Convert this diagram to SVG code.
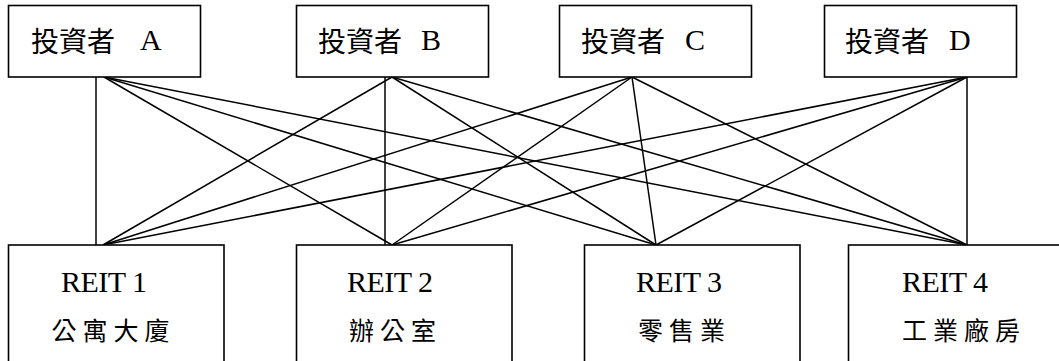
<svg xmlns="http://www.w3.org/2000/svg" width="1059" height="361" viewBox="0 0 1059 361">
<style>
.box{fill:#fff;stroke:#000;stroke-width:1.6}
.ln{stroke:#000;stroke-width:1.5;fill:none}
.cjk{font-family:"Noto Sans CJK TC","Noto Sans CJK SC",sans-serif;fill:#000}
.lat{font-family:"Liberation Serif",serif;fill:#000}
.t{font-size:28px}
.tl{font-size:30px}
.b{font-size:25px;letter-spacing:6px}
.r{font-size:30px;letter-spacing:-0.5px}
</style>
<rect width="1059" height="361" fill="#fff"/>
<g id="connectors">
<line class="ln" x1="96" y1="77" x2="96" y2="245"/>
<line class="ln" x1="104" y1="77" x2="392" y2="245"/>
<line class="ln" x1="104" y1="77" x2="656" y2="245"/>
<line class="ln" x1="104" y1="77" x2="967" y2="245"/>
<line class="ln" x1="392" y1="77" x2="103" y2="245"/>
<line class="ln" x1="385" y1="77" x2="385" y2="245"/>
<line class="ln" x1="392" y1="77" x2="656" y2="245"/>
<line class="ln" x1="392" y1="77" x2="967" y2="245"/>
<line class="ln" x1="632" y1="77" x2="103" y2="245"/>
<line class="ln" x1="632" y1="77" x2="392" y2="245"/>
<line class="ln" x1="632" y1="77" x2="656" y2="245"/>
<line class="ln" x1="632" y1="77" x2="967" y2="245"/>
<line class="ln" x1="967" y1="77" x2="103" y2="245"/>
<line class="ln" x1="967" y1="77" x2="392" y2="245"/>
<line class="ln" x1="967" y1="77" x2="656" y2="245"/>
<line class="ln" x1="967" y1="77" x2="967" y2="245"/>
</g>
<g id="investorA">
<rect class="box" x="8.5" y="5.5" width="192" height="71.5"/>
<text class="cjk t" x="31" y="52">投資者</text>
<text class="lat tl" x="140" y="50">A</text>
</g>
<g id="investorB">
<rect class="box" x="296.5" y="5.5" width="192" height="71.5"/>
<text class="cjk t" x="318" y="52">投資者</text>
<text class="lat tl" x="421" y="50">B</text>
</g>
<g id="investorC">
<rect class="box" x="559.5" y="5.5" width="192" height="71.5"/>
<text class="cjk t" x="581" y="52">投資者</text>
<text class="lat tl" x="685" y="50">C</text>
</g>
<g id="investorD">
<rect class="box" x="824.5" y="5.5" width="192" height="71.5"/>
<text class="cjk t" x="845" y="52">投資者</text>
<text class="lat tl" x="949" y="50">D</text>
</g>
<g id="reit1">
<rect class="box" x="8.5" y="245" width="215.5" height="130"/>
<text class="lat r" x="61" y="292">REIT 1</text>
<text class="cjk b" x="51.5" y="340">公寓大廈</text>
</g>
<g id="reit2">
<rect class="box" x="296.5" y="245" width="215.5" height="130"/>
<text class="lat r" x="347" y="292">REIT 2</text>
<text class="cjk b" x="349" y="340">辦公室</text>
</g>
<g id="reit3">
<rect class="box" x="584.5" y="245" width="215.5" height="130"/>
<text class="lat r" x="636" y="292">REIT 3</text>
<text class="cjk b" x="638" y="340">零售業</text>
</g>
<g id="reit4">
<rect class="box" x="848.5" y="245" width="220" height="130"/>
<text class="lat r" x="902" y="292">REIT 4</text>
<text class="cjk b" x="902" y="340">工業廠房</text>
</g>
</svg>
